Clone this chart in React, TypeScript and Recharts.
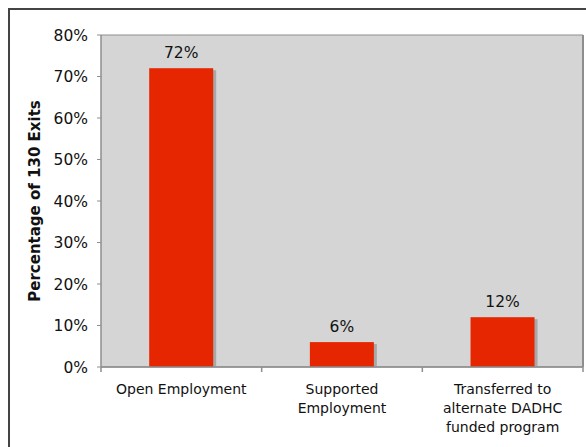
import React from 'react';
import { BarChart, Bar, XAxis, YAxis, CartesianGrid, LabelList, Label } from 'recharts';

const categories = [
  'Open Employment',
  'Supported\nEmployment',
  'Transferred to\nalternate DADHC\nfunded program',
];
const percentages = [72, 6, 12];
const yTicks = [0, 10, 20, 30, 40, 50, 60, 70, 80];

const data = categories.map((name, i) => ({ name, value: percentages[i] }));

const FONT = '"DejaVu Sans", Verdana, sans-serif';
const RED = '#e52600';
const GRID = '#8e8e8e';

const ShadowBar = (props: any) => {
  const { x, y, width, height } = props;
  if (!height) return null;
  return (
    <g>
      <rect x={x + 3} y={y + 2} width={width} height={height - 2} fill="#a8a8a8" />
      <rect x={x} y={y} width={width} height={height} fill={RED} />
    </g>
  );
};

const CategoryTick = (props: any) => {
  const { x, y, payload, index } = props;
  const half = payload && payload.offset ? payload.offset : 80;
  const lines = String(payload.value).split('\n');
  return (
    <g>
      {index === 0 && <line x1={x - half} x2={x - half} y1={y} y2={y + 5} stroke={GRID} strokeWidth={1.5} />}
      <line x1={x + half} x2={x + half} y1={y} y2={y + 5} stroke={GRID} strokeWidth={1.5} />
      <text x={x} y={y + 27} textAnchor="middle" fontSize={14} fill="#111" fontFamily={FONT}>
        {lines.map((l, i) => (
          <tspan key={i} x={x} dy={i === 0 ? 0 : 19}>
            {l}
          </tspan>
        ))}
      </text>
    </g>
  );
};

const YTitle = (props: any) => {
  const vb = props.viewBox || { x: 0, y: 35, height: 332 };
  const cx = vb.x + 35;
  const cy = vb.y + vb.height / 2;
  return (
    <text
      x={cx}
      y={cy}
      transform={`rotate(-90 ${cx} ${cy})`}
      textAnchor="middle"
      dominantBaseline="central"
      fontSize={15}
      fontWeight="bold"
      fill="#111"
      fontFamily={FONT}
    >
      Percentage of 130 Exits
    </text>
  );
};

export default function App() {
  return (
    <div
      style={{
        position: 'absolute',
        left: 0,
        top: 0,
        width: 586,
        height: 447,
        overflow: 'hidden',
        background: '#fff',
        fontFamily: FONT,
      }}
    >
      <div
        style={{
          position: 'absolute',
          left: 8,
          top: 8,
          width: 700,
          height: 600,
          borderTop: '2px solid #444',
          borderLeft: '2px solid #444',
        }}
      />
      <div style={{ position: 'absolute', left: 0, top: 0 }}>
        <BarChart
          width={586}
          height={447}
          data={data}
          margin={{ top: 35, right: 0, bottom: 0, left: 0 }}
          barCategoryGap="30%"
        >
          <CartesianGrid vertical={false} stroke={GRID} strokeWidth={1.2} fill="#d5d5d5" fillOpacity={1} />
          <XAxis
            dataKey="name"
            interval={0}
            tickLine={false}
            tickSize={0}
            tickMargin={0}
            axisLine={{ stroke: GRID, strokeWidth: 1.5 }}
            tick={<CategoryTick />}
            height={80}
          />
          <YAxis
            yAxisId="left"
            domain={[0, 80]}
            ticks={yTicks}
            interval={0}
            width={101}
            tickSize={4}
            tickMargin={9}
            tickFormatter={(v: number) => `${v}%`}
            tick={{ fontSize: 15.5, fill: '#111', fontFamily: FONT }}
            tickLine={{ stroke: GRID }}
            axisLine={{ stroke: GRID, strokeWidth: 1.5 }}
          >
            <Label content={<YTitle />} />
          </YAxis>
          <YAxis
            yAxisId="right"
            orientation="right"
            domain={[0, 80]}
            width={3}
            tick={false}
            tickLine={false}
            axisLine={{ stroke: GRID, strokeWidth: 2 }}
          />
          <Bar yAxisId="left" dataKey="value" shape={<ShadowBar />} isAnimationActive={false}>
            <LabelList
              dataKey="value"
              position="top"
              offset={10}
              formatter={(v: any) => `${v}%`}
              style={{ fontSize: 15.5, fill: '#111', fontFamily: FONT }}
            />
          </Bar>
        </BarChart>
      </div>
    </div>
  );
}
